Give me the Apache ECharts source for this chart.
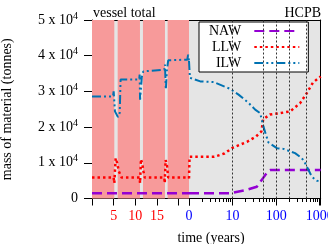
<!DOCTYPE html>
<html>
<head>
<meta charset="utf-8">
<script src="https://cdn.jsdelivr.net/npm/echarts@6/dist/echarts.min.js"></script>
<style>
  html, body { margin: 0; padding: 0; background: #fff; }
  #chart { width: 328px; height: 244px; }
</style>
</head>
<body>
<div id="chart"></div>
<script>
// operating period (linear axis, years of operation)
const opNAW = [[0, 1460], [22.4, 1460]];
const opLLW = [[0, 5850], [5.0, 5850], [5.15, 4300], [5.47, 11300], [5.8, 10000], [6.2, 7600], [6.85, 5850],
  [11.0, 5850], [11.1, 4300], [11.3, 11000], [11.6, 9800], [11.9, 7500], [12.2, 5850],
  [16.7, 5850], [16.8, 4300], [17.0, 10800], [17.3, 9300], [17.6, 5850], [22.4, 5850]];
const opILW = [[0, 28600], [4.85, 28600], [5.0, 30000], [5.3, 24400], [5.7, 23500], [6.0, 22800], [6.4, 24000], [6.6, 33300],
  [10.9, 33300], [11.0, 34700], [11.1, 27700], [11.5, 34000], [11.84, 35600], [12.2, 36100],
  [16.7, 36100], [16.85, 37500], [17.05, 30500], [17.3, 36000], [17.6, 38700], [22.0, 38900], [22.2, 40300], [22.4, 38500]];

// after shutdown (log axis, years)
const coolNAW = [[1, 1460], [8.9, 1460], [21, 2400], [36, 3300], [50, 5700], [65, 7700], [75, 8000], [1054, 8000]];
const coolLLW = [[1, 5600], [1.03, 11700], [3.8, 11700], [6.5, 12600], [10, 14200], [21.7, 15900], [34, 17300], [46, 18800],
  [50.4, 22200], [72, 23500], [123, 23900], [209, 24400], [355, 26700], [504, 29500], [703, 32500], [1054, 34200]];
const coolILW = [[1, 38500], [1.05, 33800], [1.82, 32800], [3.68, 32600], [8.86, 30700], [13.7, 29100], [23.2, 26800],
  [33, 24900], [43, 23900], [51, 20200], [58.5, 17800], [66.5, 15700], [104, 14100], [147, 13900], [272, 12700],
  [388, 11300], [462, 9900], [660, 6100], [852, 5000], [1054, 4700]];

// operating campaigns (pink) and reference years (dotted lines)
const opBands = [[0, 5.15], [5.93, 11.08], [11.77, 16.85], [17.47, 22.4]];
const markYears = [10, 50, 100, 200, 500];
const opTickLabels = [5, 10, 15];
const coolTickLabels = { 1: '0', 10: '10', 100: '100', 1000: '1000' };
const minorYears = [2, 3, 4, 5, 6, 7, 8, 9, 20, 30, 40, 50, 60, 70, 80, 90, 200, 300, 400, 500, 600, 700, 800, 900];

const FONT = 'Liberation Serif';
const chart = echarts.init(document.getElementById('chart'));

const lineStyles = {
  NAW: { color: '#9400d3', width: 2.5, type: [10, 5] },
  LLW: { color: '#ff0000', width: 2.5, type: [2.5, 3] },
  ILW: { color: '#0072b2', width: 2, type: [9, 3, 2, 3, 2, 3] }
};

function mkSeries(name, data, xi, yi) {
  return {
    name: name, type: 'line', data: data, xAxisIndex: xi, yAxisIndex: yi,
    symbol: 'none', lineStyle: lineStyles[name], itemStyle: { color: lineStyles[name].color },
    z: 3, silent: true
  };
}

const frameAxis = { axisLine: { show: true, lineStyle: { color: '#000', width: 1 } }, axisTick: { show: false }, axisLabel: { show: false }, splitLine: { show: false } };

const option = {
  animation: false,
  backgroundColor: '#fff',
  title: [
    { text: 'vessel total', left: 88, top: 1, textStyle: { fontFamily: FONT, fontSize: 14, fontWeight: 'normal', color: '#000' } },
    { text: 'HCPB', right: 2, top: 1, textStyle: { fontFamily: FONT, fontSize: 14, fontWeight: 'normal', color: '#000' } },
    { text: 'time (years)', left: 206, top: 226, textAlign: 'center', textStyle: { fontFamily: FONT, fontSize: 14, fontWeight: 'normal', color: '#000' } }
  ],
  legend: {
    data: ['NAW', 'LLW', 'ILW'], orient: 'vertical', left: 199, top: 22, align: 'right',
    itemWidth: 45, itemHeight: 14, itemGap: 2, padding: [2, 8, 2, 10],
    backgroundColor: '#fff', borderColor: '#000', borderWidth: 1, borderRadius: 0,
    itemStyle: { opacity: 0 },
    textStyle: { fontFamily: FONT, fontSize: 14, color: '#000', padding: [0, 8, 0, 0] }
  },
  grid: [
    { left: 92, top: 20, width: 97, bottom: 45.5, show: true, backgroundColor: '#e5e5e5', borderWidth: 0, outerBoundsMode: 'none' },
    { left: 189, top: 20, right: 7.3, bottom: 45.5, show: true, backgroundColor: '#e5e5e5', borderWidth: 0, outerBoundsMode: 'none' }
  ],
  xAxis: [
    {
      gridIndex: 0, type: 'value', min: 0, max: 22.4, interval: 5, position: 'bottom',
      axisLine: { lineStyle: { color: '#000' } },
      axisTick: { length: 7, lineStyle: { color: '#000' } },
      axisLabel: { formatter: v => opTickLabels.includes(v) ? String(v) : '', color: '#ff0000', fontSize: 14, fontFamily: FONT, margin: 11 },
      splitLine: { show: false }
    },
    {
      gridIndex: 1, type: 'log', logBase: 10, min: 1, max: 1054, position: 'bottom',
      axisLine: { lineStyle: { color: '#000' } },
      axisTick: { length: 7, lineStyle: { color: '#000' } },
      axisLabel: { formatter: v => coolTickLabels[Math.round(v)] || '', color: '#0000ff', fontSize: 14, fontFamily: FONT, margin: 11 },
      splitLine: { show: false }
    },
    {
      gridIndex: 1, type: 'log', logBase: 10, min: 1, max: 1054, position: 'bottom',
      axisLine: { show: false },
      axisTick: { length: 3.5, customValues: minorYears, lineStyle: { color: '#000' } },
      axisLabel: { show: false }, splitLine: { show: false }
    },
    Object.assign({ gridIndex: 0, type: 'value', min: 0, max: 22.4, position: 'top' }, frameAxis),
    Object.assign({ gridIndex: 1, type: 'log', min: 1, max: 1054, position: 'top' }, frameAxis)
  ],
  yAxis: [
    {
      gridIndex: 0, type: 'value', min: 0, max: 50000, interval: 10000,
      axisLine: { show: true, lineStyle: { color: '#000' } },
      axisTick: { show: true, length: 8, lineStyle: { color: '#000' } },
      axisLabel: {
        margin: 14,
        formatter: v => v === 0 ? '{m|0}' : '{m|' + (v / 10000) + ' x 10}{e|4}',
        rich: {
          m: { fontFamily: FONT, fontSize: 14, color: '#000' },
          e: { fontFamily: FONT, fontSize: 10, color: '#000', verticalAlign: 'bottom', padding: [0, 0, 8, 0] }
        }
      },
      splitLine: { show: false },
      name: 'mass of material (tonnes)', nameLocation: 'middle', nameGap: 78,
      nameTextStyle: { fontFamily: FONT, fontSize: 14, color: '#000' }
    },
    Object.assign({ gridIndex: 1, type: 'value', min: 0, max: 50000, position: 'right' }, frameAxis)
  ],
  series: [
    {
      type: 'line', data: [], xAxisIndex: 0, yAxisIndex: 0, z: 1, silent: true,
      markArea: {
        silent: true, itemStyle: { color: '#f79a9a' },
        data: opBands.map(b => [{ xAxis: b[0] }, { xAxis: b[1] }])
      }
    },
    {
      type: 'line', data: [], xAxisIndex: 1, yAxisIndex: 1, z: 1, silent: true,
      markLine: {
        silent: true, symbol: ['none', 'none'], label: { show: false },
        lineStyle: { color: '#333', width: 1, type: [2, 2] },
        data: markYears.map(y => ({ xAxis: y }))
      }
    },
    mkSeries('NAW', opNAW, 0, 0),
    mkSeries('LLW', opLLW, 0, 0),
    mkSeries('ILW', opILW, 0, 0),
    mkSeries('NAW', coolNAW, 1, 1),
    mkSeries('LLW', coolLLW, 1, 1),
    mkSeries('ILW', coolILW, 1, 1)
  ]
};

chart.setOption(option);
</script>
</body>
</html>
